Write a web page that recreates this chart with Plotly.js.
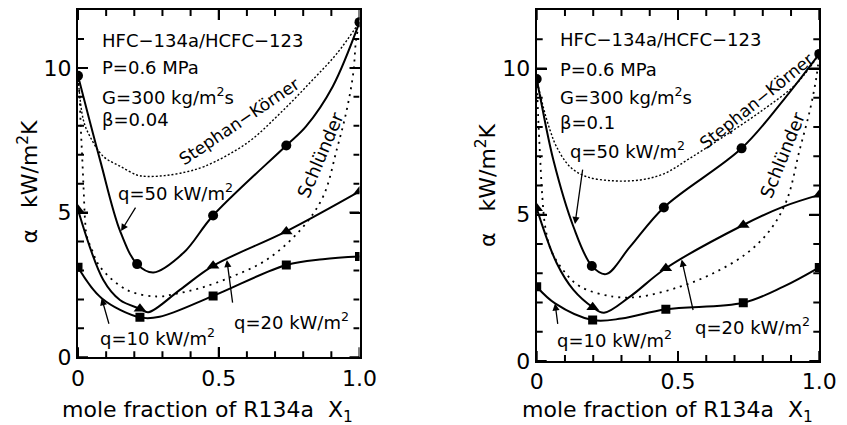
<!DOCTYPE html>
<html>
<head>
<meta charset="utf-8">
<script src="https://cdn.plot.ly/plotly-3.0.1.min.js"></script>
<style>
  html, body { margin: 0; padding: 0; background: #fff; }
  #chart { width: 847px; height: 425px; }
</style>
</head>
<body>
<div id="chart"></div>
<script>
// ---------- data: left panel (beta = 0.04) ----------
const q50L_x = [0, 0.21, 0.48, 0.74, 1.0];
const q50L_y = [9.73, 3.22, 4.9, 7.32, 11.58];
const q50L_cx = [0, 0.078, 0.15, 0.21, 0.268, 0.374, 0.48, 0.74, 0.81, 0.905, 1.0];
const q50L_cy = [9.73, 6.83, 4.35, 3.22, 2.93, 3.6, 4.9, 7.32, 7.98, 9.36, 11.58];

const q20L_x = [0, 0.22, 0.48, 0.74, 1.0];
const q20L_y = [5.1, 1.68, 3.16, 4.35, 5.73];
const q20L_cx = [0, 0.09, 0.149, 0.22, 0.25, 0.362, 0.48, 0.74, 1.0];
const q20L_cy = [5.1, 2.67, 1.98, 1.68, 1.56, 2.33, 3.16, 4.35, 5.73];

const q10L_x = [0, 0.22, 0.48, 0.74, 1.0];
const q10L_y = [3.11, 1.38, 2.12, 3.19, 3.48];
const q10L_cx = [0, 0.084, 0.22, 0.29, 0.48, 0.74, 0.87, 1.0];
const q10L_cy = [3.11, 2.04, 1.38, 1.4, 2.12, 3.19, 3.39, 3.48];

const skL_x = [0, 0.019, 0.043, 0.09, 0.15, 0.209, 0.244, 0.30, 0.363, 0.45, 0.6, 0.72, 0.83, 0.92, 1.0];
const skL_y = [9.73, 8.2, 7.62, 6.94, 6.6, 6.3, 6.25, 6.27, 6.36, 6.6, 7.4, 8.45, 9.55, 10.5, 11.58];

const schL_x = [0, 0.005, 0.01, 0.015, 0.02, 0.025, 0.031, 0.05, 0.078, 0.173, 0.28, 0.35, 0.434, 0.55, 0.67, 0.79, 0.871, 0.919, 0.955, 0.978, 0.988, 1.0];
const schL_y = [9.73, 9.1, 7.9, 6.9, 5.8, 4.75, 4.2, 3.7, 3.13, 2.33, 2.1, 2.2, 2.39, 2.8, 3.37, 4.4, 5.56, 7.17, 8.56, 9.83, 10.98, 11.58];

// ---------- data: right panel (beta = 0.1) ----------
const q50R_x = [0, 0.195, 0.45, 0.725, 1.0];
const q50R_y = [9.64, 3.25, 5.25, 7.27, 10.5];
const q50R_cx = [0, 0.012, 0.059, 0.13, 0.195, 0.245, 0.33, 0.45, 0.725, 0.873, 1.0];
const q50R_cy = [9.64, 9.04, 6.87, 4.59, 3.25, 2.97, 3.9, 5.25, 7.27, 8.92, 10.5];

const q20R_x = [0, 0.198, 0.457, 0.731, 1.0];
const q20R_y = [5.22, 1.84, 3.17, 4.65, 5.68];
const q20R_cx = [0, 0.071, 0.13, 0.198, 0.238, 0.33, 0.457, 0.731, 0.873, 1.0];
const q20R_cy = [5.22, 3.34, 2.43, 1.84, 1.65, 2.2, 3.17, 4.65, 5.28, 5.68];

const q10R_x = [0, 0.198, 0.457, 0.731, 1.0];
const q10R_y = [2.54, 1.40, 1.77, 1.99, 3.2];
const q10R_cx = [0, 0.065, 0.198, 0.3, 0.457, 0.731, 0.873, 1.0];
const q10R_cy = [2.54, 1.97, 1.40, 1.45, 1.77, 1.99, 2.54, 3.2];

const skR_x = [0, 0.023, 0.047, 0.07, 0.118, 0.177, 0.271, 0.366, 0.45, 0.542, 0.65, 0.8, 0.92, 1.0];
const skR_y = [9.64, 8.69, 7.9, 7.33, 6.64, 6.3, 6.16, 6.19, 6.4, 6.93, 7.6, 8.58, 9.49, 10.5];

const schR_x = [0, 0.005, 0.012, 0.02, 0.03, 0.05, 0.094, 0.153, 0.271, 0.366, 0.507, 0.625, 0.743, 0.826, 0.885, 0.93, 0.967, 0.99, 1.0];
const schR_y = [9.64, 8.4, 7.0, 5.6, 4.6, 3.8, 3.1, 2.55, 2.2, 2.2, 2.54, 3.0, 3.68, 4.48, 5.5, 7.2, 8.58, 9.72, 10.5];

// ---------- tick labels ----------
const xTickVals = [0, 0.5, 1.0];
const xTickText = ['0', '0.5', '1.0'];
const yTickVals = [0, 5, 10];
const yTickText = ['0', '5', '10'];
const xMinorStep = 0.1;
const yMinorStep = 1;
const X_RANGE = [0, 1.0];
const Y_RANGE = [0, 12];

const FONT = 'DejaVu Sans, sans-serif';
const BLACK = '#000';

const W = 847, H = 425;
const px = v => v / W;
const py = v => 1 - v / H;

const domXL = [78 / W, 359.5 / W];
const domYL = [1 - 357.3 / H, 1 - 10 / H];
const domXR = [536.7 / W, 819.3 / W];
const domYR = [1 - 361 / H, 1 - 10 / H];

function curve(x, y, xa, ya) {
  return {x, y, xaxis: xa, yaxis: ya, mode: 'lines', type: 'scatter',
    line: {color: BLACK, width: 2, shape: 'spline', smoothing: 1}, hoverinfo: 'skip', showlegend: false};
}
function dotted(x, y, xa, ya, dash, w) {
  return {x, y, xaxis: xa, yaxis: ya, mode: 'lines', type: 'scatter',
    line: {color: BLACK, width: w, shape: 'spline', smoothing: 1, dash: dash}, hoverinfo: 'skip', showlegend: false};
}
function pts(x, y, xa, ya, sym, size) {
  return {x, y, xaxis: xa, yaxis: ya, mode: 'markers', type: 'scatter',
    marker: {color: BLACK, symbol: sym, size: size, line: {width: 0}}, hoverinfo: 'skip', showlegend: false};
}

// inward tick marks on all four sides of a frame (decoration built from the tick arrays)
function frameTicks(xa, ya, dx, dy) {
  const plotW = (dx[1] - dx[0]) * W, plotH = (dy[1] - dy[0]) * H;
  const xs = [], ys = [];
  const xSpan = X_RANGE[1] - X_RANGE[0], ySpan = Y_RANGE[1] - Y_RANGE[0];
  const addX = (v, len) => {
    const d = len / plotH * ySpan;
    xs.push(v, v, null, v, v, null);
    ys.push(Y_RANGE[0], Y_RANGE[0] + d, null, Y_RANGE[1], Y_RANGE[1] - d, null);
  };
  const addY = (v, len) => {
    const d = len / plotW * xSpan;
    xs.push(X_RANGE[0], X_RANGE[0] + d, null, X_RANGE[1], X_RANGE[1] - d, null);
    ys.push(v, v, null, v, v, null);
  };
  xTickVals.forEach(v => addX(v, 10));
  yTickVals.forEach(v => addY(v, 10));
  for (let k = 1; X_RANGE[0] + k * xMinorStep < X_RANGE[1] - 1e-9; k++) {
    const v = +(X_RANGE[0] + k * xMinorStep).toFixed(3);
    if (!xTickVals.some(t => Math.abs(t - v) < 1e-9)) addX(v, 6);
  }
  for (let k = 1; Y_RANGE[0] + k * yMinorStep < Y_RANGE[1] - 1e-9; k++) {
    const v = Y_RANGE[0] + k * yMinorStep;
    if (!yTickVals.some(t => Math.abs(t - v) < 1e-9)) addY(v, 6);
  }
  return {x: xs, y: ys, xaxis: xa, yaxis: ya, mode: 'lines', type: 'scatter', connectgaps: false,
    line: {color: BLACK, width: 2}, hoverinfo: 'skip', showlegend: false};
}

const traces = [
  frameTicks('x', 'y', domXL, domYL),
  frameTicks('x2', 'y2', domXR, domYR),

  dotted(skL_x, skL_y, 'x', 'y', '2px,2px', 1.4),
  dotted(schL_x, schL_y, 'x', 'y', '2px,5px', 1.8),
  curve(q50L_cx, q50L_cy, 'x', 'y'),
  curve(q20L_cx, q20L_cy, 'x', 'y'),
  curve(q10L_cx, q10L_cy, 'x', 'y'),
  pts(q50L_x, q50L_y, 'x', 'y', 'circle', 10),
  pts(q20L_x, q20L_y, 'x', 'y', 'triangle-up', 11),
  pts(q10L_x, q10L_y, 'x', 'y', 'square', 9),

  dotted(skR_x, skR_y, 'x2', 'y2', '2px,2px', 1.4),
  dotted(schR_x, schR_y, 'x2', 'y2', '2px,5px', 1.8),
  curve(q50R_cx, q50R_cy, 'x2', 'y2'),
  curve(q20R_cx, q20R_cy, 'x2', 'y2'),
  curve(q10R_cx, q10R_cy, 'x2', 'y2'),
  pts(q50R_x, q50R_y, 'x2', 'y2', 'circle', 10),
  pts(q20R_x, q20R_y, 'x2', 'y2', 'triangle-up', 11),
  pts(q10R_x, q10R_y, 'x2', 'y2', 'square', 9)
];

function axX(domain, anchor) {
  return {
    domain, anchor, range: X_RANGE, tickmode: 'array', tickvals: xTickVals, ticktext: xTickText,
    ticks: 'inside', ticklen: 10, tickwidth: 2, tickcolor: BLACK,
    showline: true, linewidth: 2, linecolor: BLACK, mirror: 'ticks',
    showgrid: false, zeroline: false, tickfont: {family: FONT, size: 22, color: BLACK}
  };
}
function axY(domain, anchor) {
  return {
    domain, anchor, range: Y_RANGE, tickmode: 'array', tickvals: yTickVals, ticktext: yTickText,
    ticks: 'inside', ticklen: 10, tickwidth: 2, tickcolor: BLACK,
    showline: true, linewidth: 2, linecolor: BLACK, mirror: 'ticks',
    showgrid: false, zeroline: false, tickfont: {family: FONT, size: 22, color: BLACK}
  };
}

function txt(text, x, y, xr, yr, opts) {
  return Object.assign({text, x, y, xref: xr, yref: yr, showarrow: false,
    font: {family: FONT, size: 18, color: BLACK}, xanchor: 'left', yanchor: 'middle'}, opts || {});
}
function arrow(x, y, xr, yr, ax, ay) {
  return {text: ' ', x, y, xref: xr, yref: yr, showarrow: true, ax, ay, axref: 'pixel', ayref: 'pixel',
    font: {family: FONT, size: 2, color: BLACK},
    arrowhead: 2, arrowsize: 1.1, arrowwidth: 1.3, arrowcolor: BLACK, standoff: 0, startstandoff: 0};
}

const annotations = [
  // left panel header
  txt('HFC\u2212134a/HCFC\u2212123', 0.078, 10.96, 'x', 'y'),
  txt('P=0.6 MPa', 0.078, 10.01, 'x', 'y'),
  txt('G=300 kg/m<sup>2</sup>s', 0.078, 9.03, 'x', 'y'),
  txt('\u03B2=0.04', 0.078, 8.2, 'x', 'y'),
  // right panel header
  txt('HFC\u2212134a/HCFC\u2212123', 0.077, 11.0, 'x2', 'y2'),
  txt('P=0.6 MPa', 0.077, 9.95, 'x2', 'y2'),
  txt('G=300 kg/m<sup>2</sup>s', 0.077, 9.05, 'x2', 'y2'),
  txt('\u03B2=0.1', 0.077, 8.15, 'x2', 'y2'),
  // curve labels left
  txt('Stephan\u2212K\u00F6rner', 0.575, 8.15, 'x', 'y', {xanchor: 'center', textangle: -34, font: {family: FONT, size: 17, color: BLACK}}),
  txt('Schl\u00FCnder', 0.862, 7.0, 'x', 'y', {xanchor: 'center', textangle: -67}),
  txt('q=50 kW/m<sup>2</sup>', 0.348, 5.7, 'x', 'y', {xanchor: 'center'}),
  txt('q=20 kW/m<sup>2</sup>', 0.76, 1.25, 'x', 'y', {xanchor: 'center'}),
  txt('q=10 kW/m<sup>2</sup>', 0.284, 0.7, 'x', 'y', {xanchor: 'center'}),
  // curve labels right
  txt('Stephan\u2212K\u00F6rner', 0.778, 8.9, 'x2', 'y2', {xanchor: 'center', textangle: -39, font: {family: FONT, size: 17, color: BLACK}}),
  txt('Schl\u00FCnder', 0.871, 7.05, 'x2', 'y2', {xanchor: 'center', textangle: -68}),
  txt('q=50 kW/m<sup>2</sup>', 0.32, 7.2, 'x2', 'y2', {xanchor: 'center'}),
  txt('q=20 kW/m<sup>2</sup>', 0.763, 1.2, 'x2', 'y2', {xanchor: 'center'}),
  txt('q=10 kW/m<sup>2</sup>', 0.274, 0.75, 'x2', 'y2', {xanchor: 'center'}),
  // arrows left
  arrow(0.153, 4.36, 'x', 'y', 16, -26),
  arrow(0.529, 3.36, 'x', 'y', 6, 45),
  arrow(0.084, 2.04, 'x', 'y', 8, 28),
  // arrows right
  arrow(0.1355, 4.68, 'x2', 'y2', 8, -57),
  arrow(0.513, 3.47, 'x2', 'y2', 12, 53),
  arrow(0.065, 1.97, 'x2', 'y2', 3, 23),
  // axis titles
  txt('mole fraction of R134a\u00A0\u00A0X<sub>1</sub>', px(207.5), py(411), 'paper', 'paper', {xanchor: 'center', font: {family: FONT, size: 22, color: BLACK}}),
  txt('mole fraction of R134a\u00A0\u00A0X<sub>1</sub>', px(667.5), py(411), 'paper', 'paper', {xanchor: 'center', font: {family: FONT, size: 22, color: BLACK}}),
  txt('\u03B1\u00A0\u00A0\u00A0kW/m<sup>2</sup>K', px(27.5), py(182), 'paper', 'paper', {xanchor: 'center', textangle: -90, font: {family: FONT, size: 22, color: BLACK}}),
  txt('\u03B1\u00A0\u00A0\u00A0kW/m<sup>2</sup>K', px(486), py(185), 'paper', 'paper', {xanchor: 'center', textangle: -90, font: {family: FONT, size: 22, color: BLACK}})
];

const layout = {
  width: W, height: H,
  margin: {l: 0, r: 0, t: 0, b: 0},
  paper_bgcolor: '#fff', plot_bgcolor: '#fff',
  font: {family: FONT, color: BLACK},
  showlegend: false,
  xaxis: axX(domXL, 'y'),
  yaxis: axY(domYL, 'x'),
  xaxis2: axX(domXR, 'y2'),
  yaxis2: axY(domYR, 'x2'),
  annotations
};

Plotly.newPlot('chart', traces, layout, {displayModeBar: false});
</script>
</body>
</html>
